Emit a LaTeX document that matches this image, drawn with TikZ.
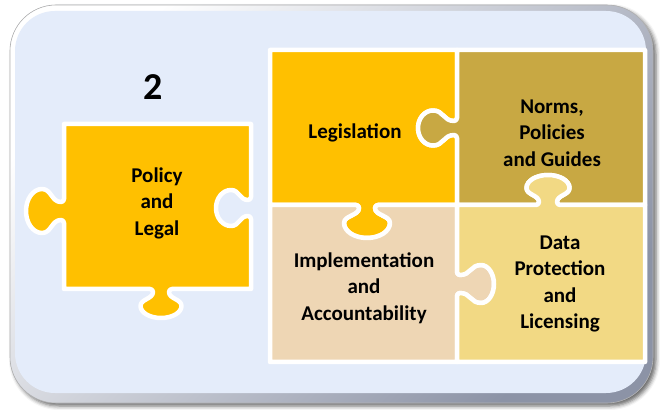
\documentclass[tikz,border=0pt]{standalone}
\usepackage{fontspec}
\setmainfont{Carlito}
\usetikzlibrary{shadows.blur}
\definecolor{bg}{HTML}{E4ECFA}
\definecolor{frameDark}{HTML}{8C93A6}
\definecolor{gold}{HTML}{FFC000}
\definecolor{olive}{HTML}{C8A843}
\definecolor{lightyel}{HTML}{F2D984}
\definecolor{tan}{HTML}{EED6B4}
% knob on an edge: #1,#2 centre on edge; #3,#4 walking direction; #5 +1 tab / -1 notch;
% #6 neck half width; #7 head half width; #8 head outward radius; #9 head centre distance
\newcommand\jk[9]{%
 -- ({#1+(#3)*(-#6-3)},{#2+(#4)*(-#6-3)})
 .. controls ({#1+(#3)*(-#6-1.3)},{#2+(#4)*(-#6-1.3)})
 and ({#1+(#3)*(-#6)+(#5)*(#4)*1.3},{#2+(#4)*(-#6)-(#5)*(#3)*1.3})
 .. ({#1+(#3)*(-#6)+(#5)*(#4)*3},{#2+(#4)*(-#6)-(#5)*(#3)*3})
 .. controls ({#1+(#3)*(-#6)+(#5)*(#4)*(1.5+#9/2)},{#2+(#4)*(-#6)-(#5)*(#3)*(1.5+#9/2)})
 and ({#1+(#3)*(-#7)+(#5)*(#4)*(1.5+#9/2)},{#2+(#4)*(-#7)-(#5)*(#3)*(1.5+#9/2)})
 .. ({#1+(#3)*(-#7)+(#5)*(#4)*(#9)},{#2+(#4)*(-#7)-(#5)*(#3)*(#9)})
 .. controls ({#1+(#3)*(-#7)+(#5)*(#4)*(#9+0.5523*#8)},{#2+(#4)*(-#7)-(#5)*(#3)*(#9+0.5523*#8)})
 and ({#1+(#3)*(-0.5523*#7)+(#5)*(#4)*(#9+#8)},{#2+(#4)*(-0.5523*#7)-(#5)*(#3)*(#9+#8)})
 .. ({#1+(#5)*(#4)*(#9+#8)},{#2-(#5)*(#3)*(#9+#8)})
 .. controls ({#1+(#3)*(0.5523*#7)+(#5)*(#4)*(#9+#8)},{#2+(#4)*(0.5523*#7)-(#5)*(#3)*(#9+#8)})
 and ({#1+(#3)*(#7)+(#5)*(#4)*(#9+0.5523*#8)},{#2+(#4)*(#7)-(#5)*(#3)*(#9+0.5523*#8)})
 .. ({#1+(#3)*(#7)+(#5)*(#4)*(#9)},{#2+(#4)*(#7)-(#5)*(#3)*(#9)})
 .. controls ({#1+(#3)*(#7)+(#5)*(#4)*(1.5+#9/2)},{#2+(#4)*(#7)-(#5)*(#3)*(1.5+#9/2)})
 and ({#1+(#3)*(#6)+(#5)*(#4)*(1.5+#9/2)},{#2+(#4)*(#6)-(#5)*(#3)*(1.5+#9/2)})
 .. ({#1+(#3)*(#6)+(#5)*(#4)*3},{#2+(#4)*(#6)-(#5)*(#3)*3})
 .. controls ({#1+(#3)*(#6)+(#5)*(#4)*1.3},{#2+(#4)*(#6)-(#5)*(#3)*1.3})
 and ({#1+(#3)*(#6+1.3)},{#2+(#4)*(#6+1.3)})
 .. ({#1+(#3)*(#6+3)},{#2+(#4)*(#6+3)})
}
\tikzset{
  piece/.style={draw=white, line width=4.5pt, line join=round},
  lbl/.style={font=\fontsize{21}{26.5}\selectfont\bfseries, align=center, inner sep=0pt, text=black},
}
\begin{document}
\begin{tikzpicture}[x=1pt,y=1pt]
\useasboundingbox (0,0) rectangle (660,409);
% frame
\path[rounded corners=46pt, fill=frameDark,
  blur shadow={shadow xshift=3pt, shadow yshift=-3pt, shadow blur radius=4pt, shadow opacity=60}]
  (10,6) rectangle (653,404);
\shade[rounded corners=46pt, top color=white, bottom color=frameDark, shading angle=45]
  (10,6) rectangle (653,404);
\draw[rounded corners=46pt, draw=black!30, line width=0.6pt] (10,6) rectangle (653,404);
\fill[bg, rounded corners=40pt] (15,16) rectangle (646,398);
% number
\node[font=\fontsize{38}{40}\selectfont\bfseries, inner sep=0pt] (num) at (153,322) {2};
% policy piece
\path[piece, fill=gold] (64,120) \jk{161}{120}{1}{0}{1}{8}{20.5}{12}{17}
  -- (251,120) \jk{251}{201}{0}{1}{-1}{8}{18}{15}{20}
  -- (251,285) -- (64,285) \jk{64}{198}{0}{-1}{1}{9}{22}{16}{22} -- cycle;
% legislation
\path[piece, fill=gold] (270,204) \jk{367}{204}{1}{0}{1}{8}{23}{15}{18}
  -- (457,204) \jk{457}{281}{0}{1}{-1}{7}{17.5}{15}{24}
  -- (457,359) -- (270,359) -- cycle;
% norms
\path[piece, fill=olive] (457,204) \jk{548}{204}{1}{0}{-1}{9}{21.5}{13}{17}
  -- (645,204) -- (645,359) -- (457,359) \jk{457}{281}{0}{-1}{1}{7}{17.5}{15}{24} -- cycle;
% implementation
\path[piece, fill=tan] (270,47) -- (457,47) \jk{457}{125}{0}{1}{1}{9}{19}{13}{24}
  -- (457,204) \jk{367}{204}{-1}{0}{-1}{8}{23}{15}{18} -- (270,204) -- cycle;
% data protection
\path[piece, fill=lightyel] (457,47) -- (645,47) -- (645,204) \jk{548}{204}{-1}{0}{1}{9}{21.5}{13}{17}
  -- (457,204) \jk{457}{125}{0}{-1}{-1}{9}{19}{13}{24} -- cycle;
% labels
\node[lbl] (pol) at (157,206) {Policy\\and\\Legal};
\node[lbl] (leg) at (355,276) {Legislation};
\node[lbl] (nrm) at (552,276) {Norms,\\Policies\\and Guides};
\node[lbl] (imp) at (364,121) {Implementation\\and\\Accountability};
\node[lbl] (dat) at (560,125) {Data\\Protection\\and\\Licensing};
\end{tikzpicture}
\end{document}
